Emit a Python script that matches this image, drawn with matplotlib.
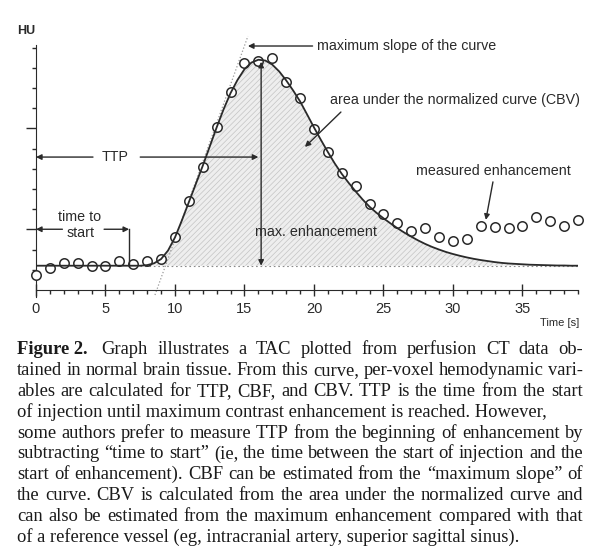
import numpy as np
import matplotlib
matplotlib.use("Agg")
import matplotlib.pyplot as plt

# measured enhancement, one sample per second
meas_t = list(range(40))
meas_hu = [27.4, 30.7, 33.5, 33.5, 31.9, 31.9, 34.4, 33.0, 34.4, 35.3,
           46.4, 64.0, 81.0, 100.8, 118.0, 132.2, 133.5, 134.7, 123.0, 114.9,
           99.7, 88.5, 77.8, 71.5, 62.6, 57.5, 53.0, 49.2, 50.5, 46.4,
           44.4, 45.1, 51.7, 51.0, 50.5, 51.7, 56.3, 54.2, 51.7, 54.7]

# fitted curve, read every 0.5 s
curve_t = np.arange(0, 39.01, 0.5)
curve_hu = [32.0] * 16 + [
    32.3, 33.2, 35.3, 39.5, 46.0, 54.5, 63.5, 72.5, 81.5, 91.0,
    100.5, 109.5, 117.5, 124.0, 129.3, 132.6, 134.0, 133.6, 131.6, 128.2,
    123.8, 118.8, 113.4, 107.0, 100.5, 94.3, 88.3, 82.6, 77.5, 73.0,
    68.8, 64.8, 61.2, 58.2, 55.5, 53.0, 50.6, 48.4, 46.4, 44.5,
    42.8, 41.3, 40.0, 38.8, 37.8, 36.9, 36.1, 35.4, 34.8, 34.3,
    33.8, 33.4, 33.1, 32.9, 32.7, 32.5, 32.4, 32.3, 32.2, 32.1,
    32.1, 32.0, 32.0]
curve_hu = np.array(curve_hu)
baseline = 32.0
t_start = 6.7      # time to start
t_peak = 16.2      # TTP
peak_hu = 134.0
slope_line = ([8.56, 15.25], [17.5, 145.7])

caption = [
    "Graph illustrates a TAC plotted from perfusion CT data ob-",
    "tained in normal brain tissue. From this curve, per-voxel hemodynamic vari-",
    "ables are calculated for TTP, CBF, and CBV. TTP is the time from the start",
    "of injection until maximum contrast enhancement is reached. However,",
    "some authors prefer to measure TTP from the beginning of enhancement by",
    "subtracting \u201ctime to start\u201d (ie, the time between the start of injection and the",
    "start of enhancement). CBF can be estimated from the \u201cmaximum slope\u201d of",
    "the curve. CBV is calculated from the area under the normalized curve and",
    "can also be estimated from the maximum enhancement compared with that",
    "of a reference vessel (eg, intracranial artery, superior sagittal sinus).",
]
justify = [True, True, True, False, True, True, True, True, True, False]

plt.rcParams['hatch.linewidth'] = 0.5
ink = '#2a2a2a'
sans = 'Liberation Sans'

fig = plt.figure(figsize=(6, 5.56), dpi=100)
ax = fig.add_axes([36/600, (556-297)/556, 542/600, 252/556])
ax.set_xlim(0, 39)
ax.set_ylim(16.5, 141.3)

m = curve_t >= 7.5
ax.fill_between(curve_t[m], baseline, curve_hu[m], facecolor='#eeeeee',
                edgecolor='#c4c4c4', hatch='//////', linewidth=0, zorder=1)
ax.plot([7.5, 39], [baseline, baseline], color='#8a8a8a', lw=0.8,
        dashes=(1.5, 2.5), zorder=2)
ax.plot(slope_line[0], slope_line[1], color='#9a9a9a', lw=0.9, ls=':',
        clip_on=False, zorder=2)
ax.plot(meas_t, meas_hu, 'o', ms=6.8, mfc='white', mec=ink, mew=1.1,
        clip_on=False, zorder=3)
ax.plot(curve_t, curve_hu, color=ink, lw=1.3, zorder=4)

# axes styling
for s in ['top', 'right']:
    ax.spines[s].set_visible(False)
ax.spines['bottom'].set_position(('data', 20))
ax.spines['bottom'].set_color(ink)
ax.spines['left'].set_color(ink)
ax.set_xticks(range(0, 36, 5))
ax.set_xticks(range(0, 40), minor=True)
ax.set_yticks([50, 100])
ax.set_yticks([30, 40, 60, 70, 80, 90, 110, 120, 130, 140], minor=True)
ax.set_yticklabels([])
ax.tick_params(axis='x', which='major', direction='inout', length=9, width=1,
               color=ink, labelsize=10.5, labelcolor=ink, pad=4)
ax.tick_params(axis='x', which='minor', direction='out', length=3, width=1, color=ink)
ax.tick_params(axis='y', which='major', direction='out', length=7, width=1, color=ink)
ax.tick_params(axis='y', which='minor', direction='out', length=3, width=1, color=ink)
for lab in ax.get_xticklabels():
    lab.set_family(sans)

fig.text(17/600, 1 - 31/556, 'HU', fontsize=9, fontweight='bold', color=ink,
         family=sans, va='center')
fig.text(560/600, 1 - 323/556, 'Time [s]', fontsize=8, color=ink, family=sans,
         ha='center', va='center')

arr = dict(arrowstyle='-|>', color=ink, lw=1.0, mutation_scale=8,
           shrinkA=0, shrinkB=0)
tk = dict(fontsize=10.3, color=ink, family=sans)

# maximum slope
ax.annotate('', xy=(15.25, 140.8), xytext=(19.9, 140.8), arrowprops=arr,
            annotation_clip=False)
ax.text(20.2, 140.8, 'maximum slope of the curve', va='center', **tk)

# area under curve
ax.annotate('', xy=(19.35, 90.8), xytext=(21.94, 108.1), arrowprops=arr)
ax.text(21.15, 114, 'area under the normalized curve (CBV)', va='center', **tk)

# measured enhancement
ax.annotate('', xy=(32.37, 54.7), xytext=(32.88, 73.5), arrowprops=arr)
ax.text(27.34, 78.9, 'measured enhancement', va='center', **tk)

# max enhancement
ax.annotate('', xy=(t_peak, baseline), xytext=(t_peak, peak_hu - 1),
            arrowprops=dict(arr, arrowstyle='<|-|>'))
ax.text(15.75, 48.7, 'max. enhancement', va='center', **tk)

# TTP
ax.annotate('', xy=(0, 85.8), xytext=(4.1, 85.8), arrowprops=arr,
            annotation_clip=False)
ax.annotate('', xy=(t_peak - 0.2, 85.8), xytext=(7.5, 85.8), arrowprops=arr)
ax.text(5.7, 85.8, 'TTP', ha='center', va='center', **tk)

# time to start
ax.annotate('', xy=(0, 50.05), xytext=(1.9, 50.05), arrowprops=arr,
            annotation_clip=False)
ax.annotate('', xy=(t_start, 50.05), xytext=(4.9, 50.05), arrowprops=arr)
ax.plot([t_start, t_start], [50.05, baseline], color=ink, lw=1.0, zorder=4)
ax.text(3.17, 52.2, 'time to\nstart', ha='center', va='center',
        linespacing=1.25, **tk)

# caption
fig.canvas.draw()
rend = fig.canvas.get_renderer()
serif = 'Liberation Serif'


def text_w(s, **kw):
    t = fig.text(0, 0, s, **kw)
    w = t.get_window_extent(rend).width
    t.remove()
    return w


x_left, x_right = 17, 583
fs = 12 * 558 / text_w(caption[4], fontsize=12, family=serif)
cap = dict(fontsize=fs, family=serif, color='#1a1a1a', va='baseline')
base_y = [354 + 20.9 * i for i in range(len(caption))]

fig.text(x_left/600, 1 - base_y[0]/556, 'Figure 2.', fontweight='bold', **cap)
first_x = x_left + text_w('Figure 2.', fontweight='bold', **cap) + 14
for i, line in enumerate(caption):
    x0 = first_x if i == 0 else x_left
    y = 1 - base_y[i]/556
    if not justify[i]:
        fig.text(x0/600, y, line, **cap)
        continue
    words = line.split(' ')
    widths = [text_w(w, **cap) for w in words]
    gap = (x_right - x0 - sum(widths)) / (len(words) - 1)
    x = x0
    for w, wd in zip(words, widths):
        fig.text(x/600, y, w, **cap)
        x += wd + gap

fig.savefig('out.png', dpi=100)
